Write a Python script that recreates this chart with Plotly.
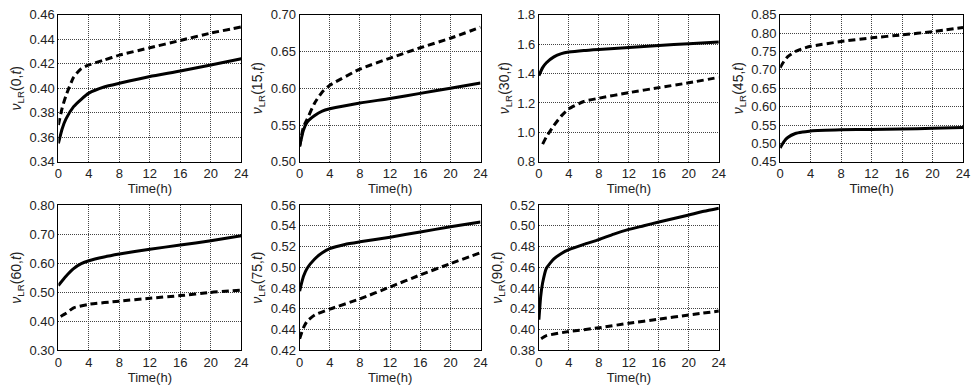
import plotly.graph_objects as go

# ---- data ----
angles = ["0", "15", "30", "45", "60", "75", "90"]

t_solid_0 = [0, 0.5, 1, 2, 3, 4, 6, 8, 12, 16, 20, 24]
v_solid_0 = [0.355, 0.367, 0.375, 0.385, 0.391, 0.396, 0.401, 0.404, 0.4095, 0.414, 0.419, 0.424]
t_dash_0 = [0, 0.5, 1, 2, 3, 4, 6, 8, 12, 16, 20, 24]
v_dash_0 = [0.370, 0.384, 0.394, 0.409, 0.416, 0.419, 0.423, 0.427, 0.433, 0.439, 0.445, 0.450]

t_solid_15 = [0, 0.5, 1, 2, 3, 4, 8, 12, 16, 20, 24]
v_solid_15 = [0.521, 0.543, 0.554, 0.563, 0.569, 0.572, 0.580, 0.586, 0.593, 0.600, 0.607]
t_dash_15 = [0, 0.5, 1, 2, 3, 4, 8, 12, 16, 20, 24]
v_dash_15 = [0.521, 0.547, 0.558, 0.580, 0.595, 0.604, 0.626, 0.641, 0.655, 0.668, 0.683]

t_solid_30 = [0, 0.5, 1, 2, 3, 4, 6, 8, 12, 16, 20, 24]
v_solid_30 = [1.385, 1.44, 1.473, 1.513, 1.535, 1.546, 1.557, 1.564, 1.577, 1.590, 1.603, 1.614]
t_dash_30 = [0.5, 1, 2, 3, 4, 6, 8, 12, 16, 20, 24]
v_dash_30 = [0.92, 0.97, 1.047, 1.112, 1.16, 1.21, 1.232, 1.27, 1.304, 1.337, 1.374]

t_solid_45 = [0, 0.5, 1, 2, 3, 4, 8, 12, 16, 20, 24]
v_solid_45 = [0.4876, 0.505, 0.516, 0.527, 0.531, 0.534, 0.537, 0.538, 0.539, 0.541, 0.543]
t_dash_45 = [0, 0.5, 1, 2, 3, 4, 8, 12, 16, 20, 24]
v_dash_45 = [0.706, 0.723, 0.736, 0.750, 0.758, 0.764, 0.777, 0.787, 0.795, 0.804, 0.815]

t_solid_60 = [0, 1, 2, 3, 4, 6, 8, 12, 16, 20, 24]
v_solid_60 = [0.523, 0.555, 0.581, 0.598, 0.608, 0.621, 0.631, 0.648, 0.662, 0.677, 0.694]
t_dash_60 = [0.3, 1, 2, 4, 8, 12, 16, 20, 24]
v_dash_60 = [0.416, 0.427, 0.446, 0.458, 0.469, 0.479, 0.488, 0.499, 0.507]

t_solid_75 = [0, 0.5, 1, 2, 3, 4, 6, 8, 12, 16, 20, 24]
v_solid_75 = [0.477, 0.491, 0.499, 0.508, 0.514, 0.518, 0.522, 0.5245, 0.529, 0.534, 0.539, 0.5437]
t_dash_75 = [0, 0.5, 1, 2, 4, 8, 12, 16, 20, 24]
v_dash_75 = [0.431, 0.4416, 0.448, 0.454, 0.4596, 0.4695, 0.481, 0.4926, 0.5035, 0.514]

t_solid_90 = [0, 0.25, 0.5, 1, 2, 3, 4, 6, 8, 10, 12, 14, 16, 18, 20, 22, 24]
v_solid_90 = [0.4094, 0.4325, 0.445, 0.459, 0.468, 0.4733, 0.477, 0.482, 0.4866, 0.492, 0.4965, 0.500, 0.5037, 0.507, 0.5104, 0.514, 0.517]
t_dash_90 = [0.3, 1, 4, 8, 12, 16, 20, 24]
v_dash_90 = [0.391, 0.394, 0.398, 0.4016, 0.406, 0.410, 0.414, 0.4177]

x_ticks = [0, 4, 8, 12, 16, 20, 24]
y_ranges = [[0.34, 0.46], [0.50, 0.70], [0.8, 1.8], [0.45, 0.85], [0.30, 0.80], [0.42, 0.56], [0.38, 0.52]]
y_dticks = [0.02, 0.05, 0.2, 0.05, 0.1, 0.02, 0.02]
y_formats = [".2f", ".2f", ".1f", ".2f", ".2f", ".2f", ".2f"]

solid_t = [t_solid_0, t_solid_15, t_solid_30, t_solid_45, t_solid_60, t_solid_75, t_solid_90]
solid_v = [v_solid_0, v_solid_15, v_solid_30, v_solid_45, v_solid_60, v_solid_75, v_solid_90]
dash_t = [t_dash_0, t_dash_15, t_dash_30, t_dash_45, t_dash_60, t_dash_75, t_dash_90]
dash_v = [v_dash_0, v_dash_15, v_dash_30, v_dash_45, v_dash_60, v_dash_75, v_dash_90]

# ---- layout geometry ----
W, H = 975, 388
col_px = [(55, 240), (299, 482), (541, 723), (785, 970)]
row_px = [(8, 161), (206, 357)]

fig = go.Figure()
font = dict(family="Liberation Sans, Arial, sans-serif", size=13, color="#222")

layout = dict(
    width=W, height=H, margin=dict(l=0, r=0, t=0, b=0),
    paper_bgcolor="white", plot_bgcolor="white", showlegend=False, font=font,
)

for i, ang in enumerate(angles):
    r, c = divmod(i, 4)
    n = "" if i == 0 else str(i + 1)
    xa, ya = "x" + n, "y" + n
    fig.add_trace(go.Scatter(x=dash_t[i], y=dash_v[i], mode="lines", xaxis=xa, yaxis=ya,
                             line=dict(color="black", width=3, dash="7px,4px", shape="spline", smoothing=0.5)))
    fig.add_trace(go.Scatter(x=solid_t[i], y=solid_v[i], mode="lines", xaxis=xa, yaxis=ya,
                             line=dict(color="black", width=3, shape="spline", smoothing=0.5)))
    x0, x1 = col_px[c]
    y0, y1 = row_px[r]
    common = dict(showline=True, linecolor="black", linewidth=1, mirror=True,
                  showgrid=True, gridcolor="#444", gridwidth=1, griddash="1px,1px",
                  ticks="", zeroline=False, tickfont=font)
    layout["xaxis" + n] = dict(domain=[x0 / W, x1 / W], anchor=ya, range=[0, 24],
                               tickvals=x_ticks, title=dict(text="Time(h)", font=font, standoff=0),
                               **common)
    layout["yaxis" + n] = dict(domain=[1 - y1 / H, 1 - y0 / H], anchor=xa, range=y_ranges[i],
                               dtick=y_dticks[i], tick0=y_ranges[i][0], tickformat=y_formats[i],
                               title=dict(text="<i>ν</i><sub>LR</sub>(" + ang + ",<i>t</i>)",
                                          font=dict(family="Liberation Sans, Arial, sans-serif", size=14, color="#222"),
                                          standoff=4),
                               **common)

fig.update_layout(**layout)
fig.write_html("out.html")
